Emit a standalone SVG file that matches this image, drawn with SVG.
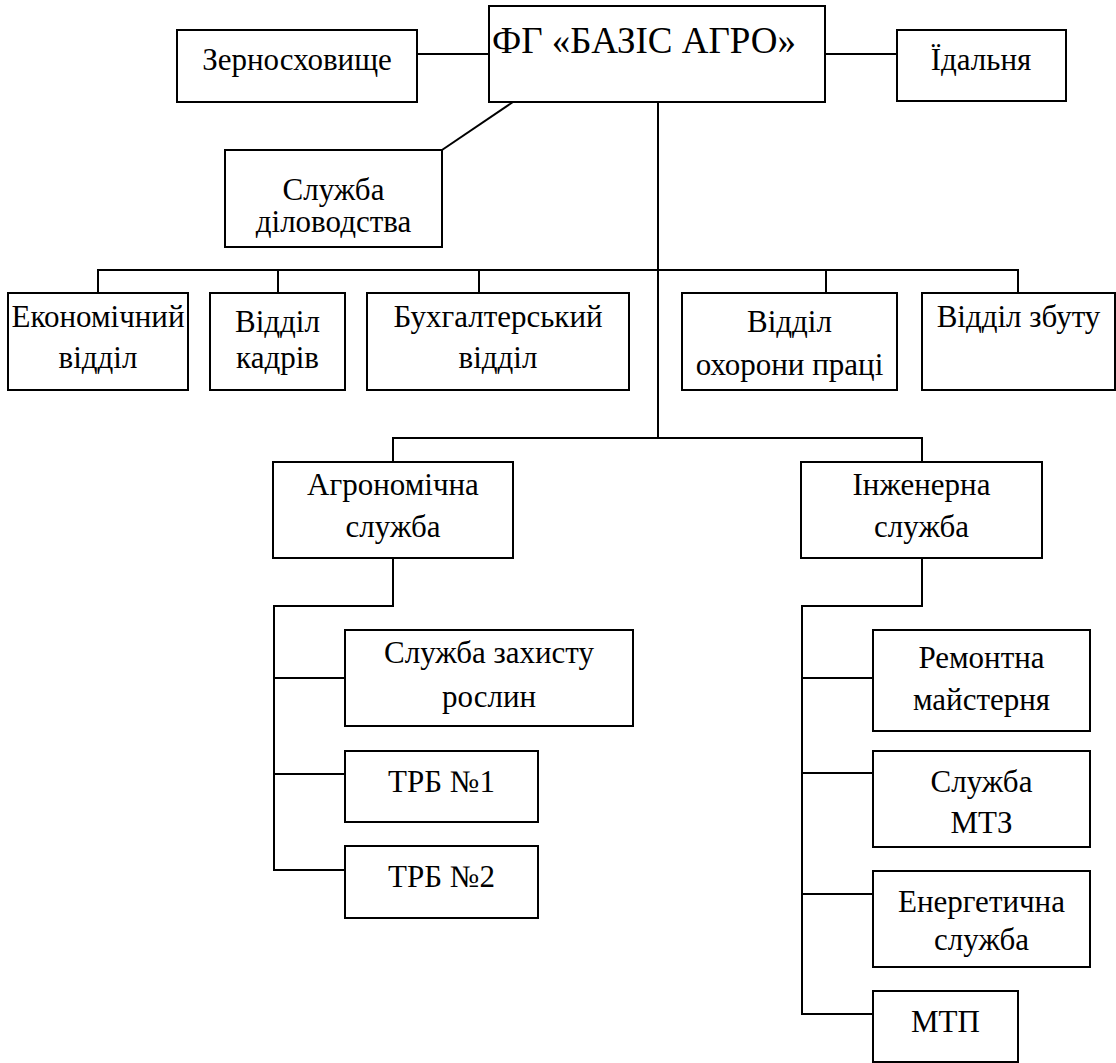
<svg xmlns="http://www.w3.org/2000/svg" width="1116" height="1063" viewBox="0 0 1116 1063">
<style>
  .box { fill: #ffffff; stroke: #000000; stroke-width: 2; }
  .ln { fill: none; stroke: #000000; stroke-width: 2; }
  .lbl { font-family: 'Liberation Serif', 'Times New Roman', serif; font-size: 31px; fill: #000000; text-anchor: middle; }
  .title { font-family: 'Liberation Serif', 'Times New Roman', serif; font-size: 37px; fill: #000000; text-anchor: start; }
</style>
<rect width="1116" height="1063" fill="#ffffff"/>
<g id="connectors">
  <line class="ln" x1="417" y1="54" x2="489" y2="54"/>
  <line class="ln" x1="825" y1="54" x2="897" y2="54"/>
  <line class="ln" x1="442" y1="150" x2="513" y2="102"/>
  <line class="ln" x1="658" y1="102" x2="658" y2="438"/>
  <polyline class="ln" points="98,293 98,270 1018,270 1018,293"/>
  <line class="ln" x1="278" y1="270" x2="278" y2="293"/>
  <line class="ln" x1="479" y1="270" x2="479" y2="293"/>
  <line class="ln" x1="826" y1="270" x2="826" y2="293"/>
  <polyline class="ln" points="393,462 393,438 922,438 922,462"/>
  <polyline class="ln" points="393,558 393,606 274,606 274,870 345,870"/>
  <line class="ln" x1="274" y1="678" x2="345" y2="678"/>
  <line class="ln" x1="274" y1="774" x2="345" y2="774"/>
  <polyline class="ln" points="922,558 922,606 802,606 802,1014 873,1014"/>
  <line class="ln" x1="802" y1="678" x2="873" y2="678"/>
  <line class="ln" x1="802" y1="773" x2="873" y2="773"/>
  <line class="ln" x1="802" y1="894" x2="873" y2="894"/>
</g>
<g id="fg-bazis-agro">
  <rect class="box" x="489" y="6" width="336" height="96"/>
  <text class="title" x="492" y="53">ФГ «БАЗІС АГРО»</text>
</g>
<g id="zernoskhovyshche">
  <rect class="box" x="177" y="30" width="240" height="72"/>
  <text class="lbl" x="297" y="70">Зерносховище</text>
</g>
<g id="idalnia">
  <rect class="box" x="897" y="30" width="169" height="71"/>
  <text class="lbl" x="981" y="70">Їдальня</text>
</g>
<g id="sluzhba-dilovodstva">
  <rect class="box" x="225" y="150" width="217" height="97"/>
  <text class="lbl" x="333.5" y="200">Служба</text>
  <text class="lbl" x="333.5" y="232">діловодства</text>
</g>
<g id="ekonomichnyi">
  <rect class="box" x="8" y="293" width="180" height="97"/>
  <text class="lbl" x="98" y="327">Економічний</text>
  <text class="lbl" x="98" y="368">відділ</text>
</g>
<g id="kadry">
  <rect class="box" x="210" y="293" width="135" height="97"/>
  <text class="lbl" x="277.5" y="332">Відділ</text>
  <text class="lbl" x="277.5" y="368">кадрів</text>
</g>
<g id="bukhhalterskyi">
  <rect class="box" x="367" y="293" width="262" height="97"/>
  <text class="lbl" x="498" y="327">Бухгалтерський</text>
  <text class="lbl" x="498" y="368">відділ</text>
</g>
<g id="okhorona-pratsi">
  <rect class="box" x="682" y="293" width="215" height="97"/>
  <text class="lbl" x="789.5" y="332">Відділ</text>
  <text class="lbl" x="789.5" y="375">охорони праці</text>
</g>
<g id="zbut">
  <rect class="box" x="922" y="293" width="193" height="97"/>
  <text class="lbl" x="1018.5" y="327">Відділ збуту</text>
</g>
<g id="ahronomichna">
  <rect class="box" x="273" y="462" width="240" height="96"/>
  <text class="lbl" x="393" y="495">Агрономічна</text>
  <text class="lbl" x="393" y="537">служба</text>
</g>
<g id="inzhenerna">
  <rect class="box" x="801" y="462" width="241" height="96"/>
  <text class="lbl" x="921.5" y="495">Інженерна</text>
  <text class="lbl" x="921.5" y="537">служба</text>
</g>
<g id="zakhyst-roslyn">
  <rect class="box" x="345" y="630" width="288" height="96"/>
  <text class="lbl" x="489" y="663">Служба захисту</text>
  <text class="lbl" x="489" y="707">рослин</text>
</g>
<g id="trb1">
  <rect class="box" x="345" y="751" width="193" height="71"/>
  <text class="lbl" x="441.5" y="792">ТРБ №1</text>
</g>
<g id="trb2">
  <rect class="box" x="345" y="846" width="193" height="72"/>
  <text class="lbl" x="441.5" y="887">ТРБ №2</text>
</g>
<g id="remontna">
  <rect class="box" x="873" y="630" width="217" height="101"/>
  <text class="lbl" x="981.5" y="668">Ремонтна</text>
  <text class="lbl" x="981.5" y="710">майстерня</text>
</g>
<g id="mtz">
  <rect class="box" x="873" y="751" width="217" height="96"/>
  <text class="lbl" x="981.5" y="792">Служба</text>
  <text class="lbl" x="981.5" y="833">МТЗ</text>
</g>
<g id="enerhetychna">
  <rect class="box" x="873" y="871" width="217" height="96"/>
  <text class="lbl" x="981.5" y="912">Енергетична</text>
  <text class="lbl" x="981.5" y="950">служба</text>
</g>
<g id="mtp">
  <rect class="box" x="873" y="991" width="145" height="71"/>
  <text class="lbl" x="945.5" y="1032">МТП</text>
</g>
</svg>
